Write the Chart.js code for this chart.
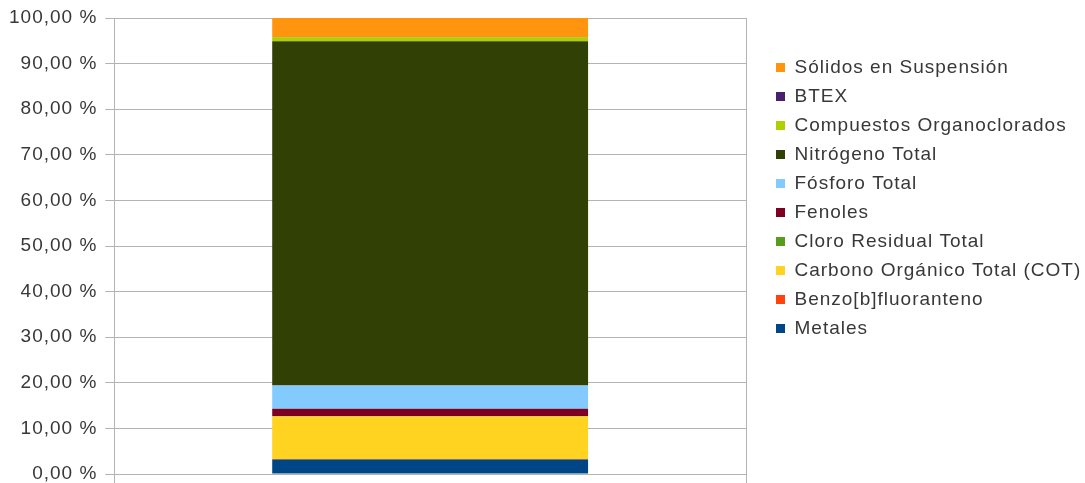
<!DOCTYPE html>
<html>
<head>
<meta charset="utf-8">
<title>Composición por parámetro</title>
<script src="https://cdn.jsdelivr.net/npm/chart.js@4.4.1/dist/chart.umd.min.js"></script>
<style>
  html, body { margin: 0; padding: 0; background: #ffffff; }
  #wrap { position: relative; width: 1085px; height: 483px; }
</style>
</head>
<body>
<div id="wrap"><canvas id="barChart"></canvas></div>
<script>
// one stacked column, bottom to top
const categories = [''];
const seriesNames = [
    'Metales',
    'Benzo[b]fluoranteno',
    'Carbono Orgánico Total (COT)',
    'Cloro Residual Total',
    'Fenoles',
    'Fósforo Total',
    'Nitrógeno Total',
    'Compuestos Organoclorados',
    'BTEX',
    'Sólidos en Suspensión'
];
const seriesValues = [3.2, 0.1, 9.3, 0.1, 1.6, 5.1, 75.5, 0.9, 0.05, 4.15];
const seriesColors = [
    '#004586', '#ff420e', '#ffd320', '#579d1c', '#7e0021',
    '#83caff', '#314004', '#aecf00', '#4b1f6f', '#ff950e'
];
const yTickValues = [0, 10, 20, 30, 40, 50, 60, 70, 80, 90, 100];

const fontFamily = "'Liberation Sans', Arial, sans-serif";
const textColor = '#383838';
const lineColor = '#b3b3b3';

// slightly wider text, like the office renderer
const textSpacing = {
    id: 'textSpacing',
    beforeLayout(chart) { chart.ctx.letterSpacing = '1px'; },
    beforeDraw(chart) { chart.ctx.letterSpacing = '1px'; }
};

// legend sits a bit away from the plot and higher than centred
const legendPlacement = {
    id: 'legendPlacement',
    afterLayout(chart) {
        const lg = chart.legend;
        lg.left = chart.chartArea.right + 20;
        lg.right = chart.width;
        lg.width = lg.right - lg.left;
        lg.top = 48;
    }
};

let StartFunc = () => {
    const ctx = document.getElementById('barChart');

    const datasets = seriesNames.map((name, i) => ({
        label: name,
        data: [seriesValues[i]],
        backgroundColor: seriesColors[i],
        borderWidth: 0,
        barPercentage: 0.5,
        categoryPercentage: 1.0
    }));

    new Chart(ctx, {
        type: 'bar',
        data: {
            labels: categories,
            datasets: datasets
        },
        plugins: [textSpacing, legendPlacement],
        options: {
            responsive: true,
            maintainAspectRatio: false,
            animation: false,
            layout: {
                padding: { left: 1, top: 18, right: 39, bottom: 0 }
            },
            plugins: {
                tooltip: { enabled: false },
                legend: {
                    position: 'right',
                    align: 'start',
                    reverse: true,
                    maxWidth: 300,
                    labels: {
                        boxWidth: 9,
                        boxHeight: 9,
                        padding: 10,
                        color: textColor,
                        font: { family: fontFamily, size: 19 }
                    }
                }
            },
            scales: {
                x: {
                    stacked: true,
                    grid: {
                        display: true,
                        offset: true,
                        color: lineColor,
                        tickLength: 9
                    },
                    border: { display: true, color: lineColor },
                    ticks: { display: false }
                },
                y: {
                    stacked: true,
                    min: 0,
                    max: 100,
                    afterBuildTicks: (scale) => {
                        scale.ticks = yTickValues.map(v => ({ value: v }));
                    },
                    // let the end labels hang over the plot edges
                    afterFit: (scale) => {
                        scale.paddingTop = 0;
                        scale.paddingBottom = 0;
                    },
                    grid: {
                        color: lineColor,
                        tickLength: 9
                    },
                    border: { display: true, color: lineColor },
                    ticks: {
                        padding: 8,
                        color: textColor,
                        font: { family: fontFamily, size: 19 },
                        callback: (value) => value.toFixed(2).replace('.', ',') + ' %'
                    }
                }
            }
        }
    });
};

StartFunc();
</script>
</body>
</html>
